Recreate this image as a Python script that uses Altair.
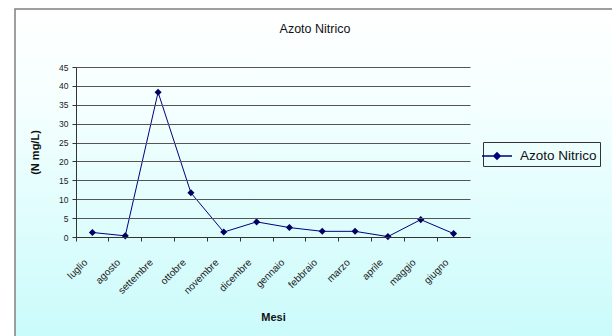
import altair as alt
import pandas as pd

# Monthly nitric nitrogen readings (N mg/L), July through June
mesi = ["luglio", "agosto", "settembre", "ottobre", "novembre", "dicembre",
        "gennaio", "febbraio", "marzo", "aprile", "maggio", "giugno"]
azoto_nitrico = [1.2, 0.3, 38.3, 11.7, 1.3, 4.0, 2.5, 1.5, 1.5, 0.1, 4.6, 0.9]
serie = "Azoto Nitrico"

df = pd.DataFrame({"Mese": mesi, "Valore": azoto_nitrico, "Serie": serie})

FONT = "Liberation Sans"
W, H = 394, 170
LEFT, TOP = 76, 67

# Chart-area backdrop: white fading to pale cyan, with a thin grey frame
backdrop = alt.Chart(pd.DataFrame({"k": [0]})).mark_rect(
    clip=False,
    fill={
        "gradient": "linear", "x1": 0, "y1": 0, "x2": 0, "y2": 1,
        "stops": [
            {"offset": 0.0, "color": "#ffffff"},
            {"offset": 0.25, "color": "#f6ffff"},
            {"offset": 1.0, "color": "#c6fafa"},
        ],
    },
    stroke="#808080",
    strokeWidth=1.5,
).encode(
    x=alt.value(15 - LEFT), x2=alt.value(640 - LEFT),
    y=alt.value(9 - TOP), y2=alt.value(360 - TOP),
)

x_enc = alt.X(
    "Mese:N", sort=mesi, title="Mesi",
    scale=alt.Scale(type="band", paddingInner=0, paddingOuter=0),
    axis=alt.Axis(
        labelAngle=-45, labelAlign="right", labelBaseline="top",
        bandPosition=0, labelOffset=-10,
        tickSize=4, tickColor="#333333", domainColor="#333333",
        labelFontSize=10, labelColor="#222222", labelFont=FONT,
        labelPadding=16,
        titleFont=FONT, titleFontSize=11, titleFontWeight="bold",
        titlePadding=16, titleColor="#111111", grid=False, zindex=1,
    ),
)
y_enc = alt.Y(
    "Valore:Q", title="(N mg/L)",
    scale=alt.Scale(domain=[0, 45], nice=False),
    axis=alt.Axis(
        values=list(range(0, 50, 5)), tickSize=4, tickColor="#333333",
        domainColor="#333333", gridColor="#555555", gridWidth=1,
        labelFontSize=8.5, labelColor="#222222", labelFont=FONT,
        labelPadding=4,
        titleFont=FONT, titleFontSize=11, titleFontWeight="bold",
        titlePadding=18, titleColor="#111111", zindex=1,
    ),
)

color_enc = alt.Color(
    "Serie:N",
    scale=alt.Scale(domain=[serie], range=["#000080"]),
    legend=alt.Legend(
        title=None, orient="none", legendX=407, legendY=75,
        symbolType="M-1.5,0L1.5,0M0,-0.33L0.33,0L0,0.33L-0.33,0Z",
        symbolSize=400, symbolStrokeWidth=1.3, symbolFillColor="#000080",
        labelFont=FONT, labelFontSize=13.5, labelColor="#111111",
        strokeColor="#333333", padding=3, labelOffset=12,
        fillColor="transparent", zindex=1,
    ),
)

line = alt.Chart(df).mark_line(color="#000080", strokeWidth=1).encode(
    x=x_enc, y=y_enc, color=color_enc,
)
points = alt.Chart(df).mark_point(
    shape="diamond", filled=True, size=50, opacity=1, color="#000060",
).encode(x=x_enc, y=y_enc)

chart = alt.layer(backdrop, line, points).properties(
    width=W, height=H,
    title=alt.TitleParams(serie, font=FONT, fontSize=12.5, fontWeight="normal",
                          color="#111111", anchor="middle", offset=-27,
                          dx=42, zindex=1),
    autosize=alt.AutoSizeParams(type="none"),
    padding={"left": LEFT, "top": TOP, "right": 612 - LEFT - W,
             "bottom": 336 - TOP - H},
).configure_view(stroke="#444444", strokeWidth=1).configure(background="white")

chart.save("out.html", embed_options={"renderer": "svg", "actions": False})
